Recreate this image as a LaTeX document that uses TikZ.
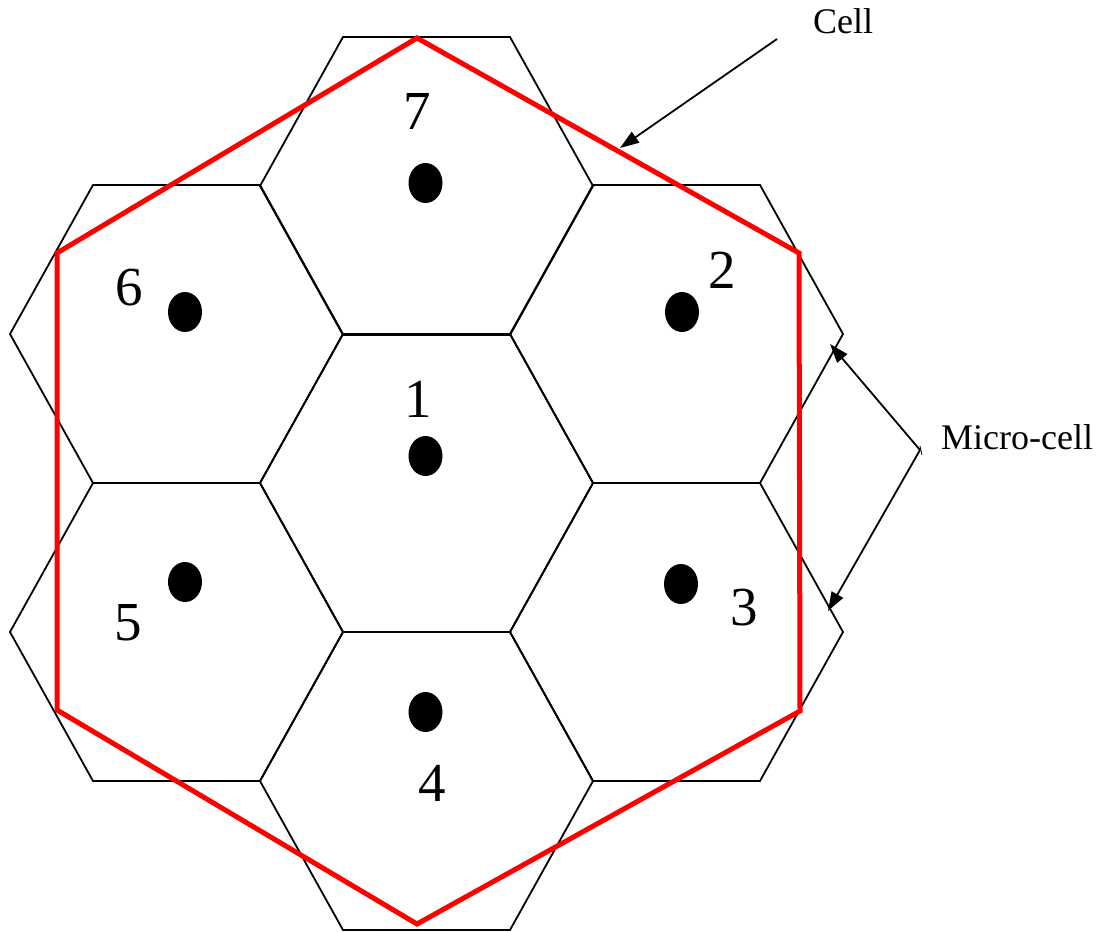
\documentclass[tikz,border=0pt]{standalone}
\usepackage{fontspec}
\setmainfont{Liberation Serif}
\usetikzlibrary{arrows.meta,shapes.geometric}

\tikzset{
  hexline/.style={black, line width=1.8pt, line join=miter},
  cellline/.style={red, line width=5pt, line join=miter},
  station/.style={ellipse, fill=black, minimum width=34pt, minimum height=40pt, inner sep=0pt},
  cellnum/.style={inner sep=0pt, font=\fontsize{55}{55}\selectfont},
  tag/.style={inner sep=0pt, font=\fontsize{36}{36}\selectfont},
  pointer/.style={black, line width=1.8pt, -{Triangle[length=19pt,width=13pt]}}
}

\begin{document}
\begin{tikzpicture}[x=1pt, y=-1pt]
  \useasboundingbox (0,0) rectangle (1104,932);

  % seven flat-topped micro-cells
  \foreach \cx/\cy in {426.5/483, 426.5/186, 176.5/334, 676.5/334, 176.5/632, 676.5/632, 426.5/781} {
    \draw[hexline] (\cx-83.5,\cy-149) -- (\cx+83.5,\cy-149) -- (\cx+166.5,\cy)
      -- (\cx+83.5,\cy+149) -- (\cx-83.5,\cy+149) -- (\cx-166.5,\cy) -- cycle;
  }

  % the enclosing cell
  \draw[cellline] (417,38) -- (799,253) -- (800,711) -- (417,924) -- (57,710) -- (57,253) -- cycle;

  % base stations
  \node[station] (s1) at (425.5,456) {};
  \node[station] (s7) at (425.5,183) {};
  \node[station] (s6) at (185,312) {};
  \node[station] (s2) at (682,312) {};
  \node[station] (s5) at (185,582) {};
  \node[station] (s3) at (681,584) {};
  \node[station] (s4) at (425.5,712) {};

  % cell numbers
  \node[cellnum] (n1) at (418,399) {1};
  \node[cellnum] (n7) at (417,111) {7};
  \node[cellnum] (n6) at (129,288) {6};
  \node[cellnum] (n2) at (722,270) {2};
  \node[cellnum] (n5) at (128,623) {5};
  \node[cellnum] (n3) at (744,608) {3};
  \node[cellnum] (n4) at (432,783) {4};

  % annotations
  \node[tag] (celltag) at (843,21) {Cell};
  \coordinate (cellfrom) at (777,39);
  \coordinate (cellto) at (620,148);
  \draw[pointer] (cellfrom) -- (cellto);

  \node[tag, anchor=west] (microtag) at (941,437) {Micro-cell};
  \coordinate (apex) at (920,450);
  \coordinate (microup) at (830,344);
  \coordinate (microdown) at (828,611);
  \draw[pointer] (apex) -- (microup);
  \draw[pointer] (apex) -- (microdown);
  \draw[black, line width=0.8pt] (apex) ++(0,-4) -- ++(2,9);
\end{tikzpicture}
\end{document}
